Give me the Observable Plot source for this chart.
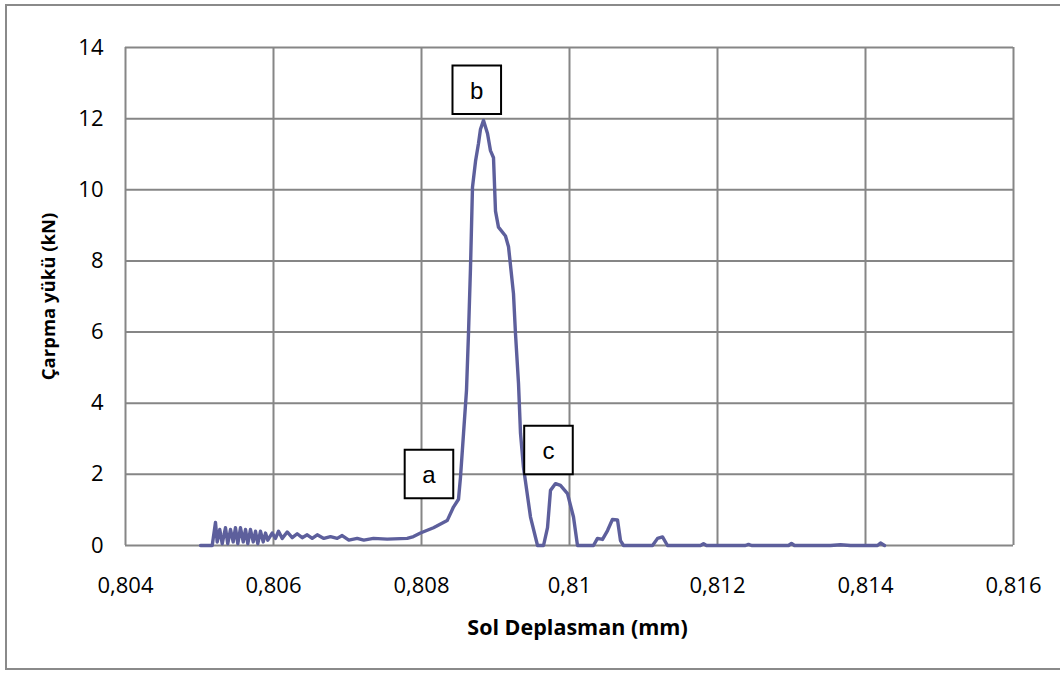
<!DOCTYPE html>
<html>
<head>
<meta charset="utf-8">
<script src="https://cdn.jsdelivr.net/npm/d3@7"></script>
<script src="https://cdn.jsdelivr.net/npm/@observablehq/plot@0.6"></script>
<style>
  html, body { margin: 0; padding: 0; background: #fff; }
  #wrap { position: relative; width: 1060px; height: 673px; overflow: hidden; }
  #border { position: absolute; left: 5px; top: 4px; width: 1080px; height: 666px; border: 2px solid #8a8a8a; box-sizing: border-box; pointer-events: none; }
</style>
</head>
<body>
<div id="wrap"><div id="border"></div></div>
<script>
// Displacement (mm)
const displacement = [
  0.805014, 0.805172, 0.805216, 0.805239, 0.805274, 0.805307, 0.805351, 0.805382,
  0.805419, 0.805455, 0.805486, 0.805518, 0.805554, 0.805591, 0.805622, 0.805653,
  0.805689, 0.805726, 0.805757, 0.805788, 0.805824, 0.805861, 0.805892, 0.805923,
  0.805982, 0.806027, 0.806068, 0.806118, 0.806185, 0.806253, 0.80632, 0.806388,
  0.806455, 0.806523, 0.806591, 0.80668, 0.80677, 0.806861, 0.806928, 0.807018,
  0.807131, 0.80722, 0.807351, 0.807536, 0.807807, 0.807892, 0.807986, 0.808162,
  0.808347, 0.808432, 0.8085, 0.808527, 0.808568, 0.808608, 0.808635, 0.808662,
  0.808689, 0.80873, 0.80877, 0.808797, 0.808838, 0.808892, 0.808932, 0.808973,
  0.809, 0.80904, 0.809135, 0.809176, 0.809243, 0.80927, 0.809311, 0.809338,
  0.809378, 0.809473, 0.809568, 0.809649, 0.809703, 0.809743, 0.809811, 0.809878,
  0.809973, 0.810054, 0.810108, 0.810324, 0.810378, 0.810446, 0.810514, 0.81058,
  0.810649, 0.810689, 0.81073, 0.811122, 0.81119, 0.811257, 0.811324, 0.81177,
  0.811811, 0.811851, 0.812378, 0.812419, 0.81246, 0.81296, 0.813, 0.81304,
  0.813527, 0.813662, 0.813797, 0.814162, 0.814203, 0.814257
];
// Impact load (kN)
const load = [
  0, 0, 0.65, 0.1, 0.45, 0.05, 0.5, 0.05,
  0.45, 0.1, 0.5, 0.05, 0.5, 0.1, 0.45, 0.05,
  0.45, 0.1, 0.4, 0.05, 0.4, 0.1, 0.35, 0.15,
  0.35, 0.2, 0.4, 0.2, 0.38, 0.22, 0.33, 0.22,
  0.3, 0.2, 0.3, 0.2, 0.25, 0.2, 0.28, 0.15,
  0.2, 0.15, 0.2, 0.18, 0.2, 0.25, 0.35, 0.5,
  0.7, 1.08, 1.3, 1.92, 3.15, 4.36, 5.96, 7.8,
  10.07, 10.8, 11.3, 11.7, 11.95, 11.58, 11.1, 10.9,
  9.4, 8.95, 8.7, 8.4, 7.08, 5.96, 4.55, 3.15,
  2.2, 0.8, 0, 0, 0.5, 1.55, 1.74, 1.69,
  1.46, 0.8, 0, 0, 0.2, 0.17, 0.42, 0.73,
  0.72, 0.14, 0, 0, 0.2, 0.24, 0, 0,
  0.05, 0, 0, 0.03, 0, 0, 0.06, 0,
  0, 0.02, 0, 0, 0.07, 0
];
const xTicks = [0.804, 0.806, 0.808, 0.810, 0.812, 0.814, 0.816];
const yTicks = [0, 2, 4, 6, 8, 10, 12, 14];
// Annotation boxes
const noteLabels = ["a", "b", "c"];
const noteX = [0.808101, 0.808747, 0.809716];
const noteY = [2.01, 12.81, 2.685];

const xTitle = "Sol Deplasman (mm)";
const yTitle = "Çarpma yükü (kN)";

const series = displacement.map((d, i) => ({x: d, y: load[i]}));
const notes = noteLabels.map((l, i) => ({label: l, x: noteX[i], y: noteY[i]}));
const comma = d => String(+d.toFixed(3)).replace(".", ",");

const chart = Plot.plot({
  width: 1060,
  height: 673,
  marginLeft: 125,
  marginRight: 47,
  marginTop: 47,
  marginBottom: 128,
  style: {fontFamily: "'Open Sans', sans-serif", fontSize: "22px", color: "#000", background: "transparent"},
  x: {domain: [0.804, 0.816], ticks: xTicks, tickFormat: comma},
  y: {domain: [0, 14], ticks: yTicks},
  marks: [
    Plot.gridX(xTicks, {stroke: "#868686", strokeOpacity: 1, strokeWidth: 2}),
    Plot.gridY(yTicks, {stroke: "#868686", strokeOpacity: 1, strokeWidth: 2}),
    Plot.line(series, {x: "x", y: "y", stroke: "#5d5f9c", strokeWidth: 3.4, strokeLinejoin: "round"}),
    Plot.dot(notes, {x: "x", y: "y", symbol: "square", r: 27.4, fill: "white", stroke: "black", strokeWidth: 2}),
    Plot.text(notes, {x: "x", y: "y", text: "label", fontFamily: "'Liberation Sans', Arial, sans-serif", fontSize: 24, fill: "black", dy: 1}),
    Plot.axisX(xTicks, {tickSize: 0, tickPadding: 32, tickFormat: comma, label: null}),
    Plot.axisY(yTicks, {tickSize: 0, tickPadding: 22, label: null}),
    Plot.text([xTitle], {frameAnchor: "bottom", dx: 8, dy: 89, fontWeight: "bold", fontSize: 21.5}),
    Plot.text([yTitle], {frameAnchor: "left", textAnchor: "middle", dx: -76, rotate: -90, fontWeight: "bold", fontSize: 18.5})
  ]
});
document.getElementById("wrap").prepend(chart);
</script>
</body>
</html>
